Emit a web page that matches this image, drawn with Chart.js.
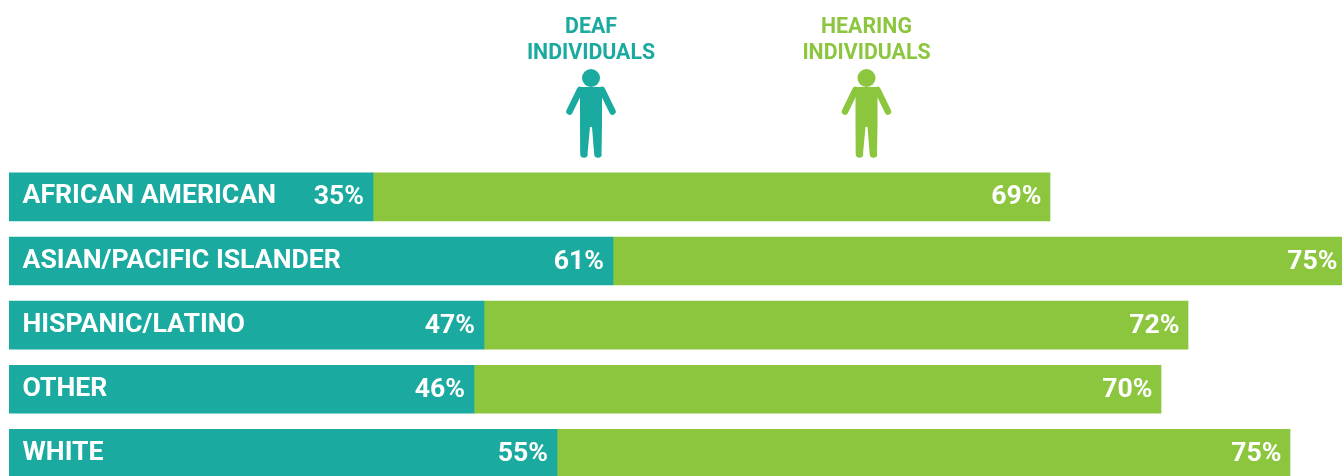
<!DOCTYPE html>
<html>
<head>
<meta charset="utf-8">
<script src="https://cdn.jsdelivr.net/npm/chart.js@4"></script>
<style>
html,body{margin:0;padding:0;background:#fff;overflow:hidden;height:476px}
#wrap{position:absolute;left:0;top:0;width:1342px;height:515px}
canvas{display:block}
</style>
</head>
<body>
<div id="wrap"><canvas id="c" width="1342" height="515"></canvas></div>
<script>
const categories = ["AFRICAN AMERICAN","ASIAN/PACIFIC ISLANDER","HISPANIC/LATINO","OTHER","WHITE"];
// Printed percentages, as labelled in the picture
const deafLabels = [35,61,47,46,55];
const hearingLabels = [69,75,72,70,75];
// Segment lengths (the drawn bars are not strictly proportional to the labels)
const deafLengths = [36.4,60.4,47.5,46.5,54.8];
const hearingLengths = [67.7,73.3,70.4,68.7,73.3];
const TEAL = "#1AAAA0";
const GREEN = "#8CC63F";
const FONT = "Roboto";

const overlay = {
  id: "overlay",
  afterDatasetsDraw(chart) {
    const ctx = chart.ctx;
    ctx.save();
    ctx.fillStyle = "#fff";
    ctx.font = "700 26.67px " + FONT;
    ctx.textAlign = "right";
    ctx.textBaseline = "middle";
    [[0, deafLabels, 9], [1, hearingLabels, 8.5]].forEach(([idx, labels, inset]) => {
      chart.getDatasetMeta(idx).data.forEach((bar, i) => {
        ctx.fillText(labels[i] + "%", bar.x - inset, bar.y + 1);
      });
    });
    ctx.restore();
  },
  afterDraw(chart) {
    const ctx = chart.ctx;
    const header = (cx, lines, color) => {
      ctx.save();
      ctx.fillStyle = color;
      ctx.font = "700 21.33px " + FONT;
      ctx.textAlign = "center";
      ctx.textBaseline = "alphabetic";
      ctx.fillText(lines[0], cx, 33);
      ctx.fillText(lines[1], cx, 59);
      ctx.translate(cx, 0);
      ctx.beginPath();
      ctx.arc(0, 78, 9, 0, Math.PI * 2);
      ctx.fill();
      // torso and legs
      ctx.beginPath();
      ctx.moveTo(-11, 87);
      ctx.lineTo(11, 87);
      ctx.lineTo(11, 125);
      ctx.lineTo(10.5, 154);
      ctx.arc(7, 154, 3.8, 0, Math.PI);
      ctx.lineTo(1, 127);
      ctx.lineTo(-1, 127);
      ctx.lineTo(-3.5, 154);
      ctx.arc(-7, 154, 3.8, 0, Math.PI);
      ctx.lineTo(-11, 125);
      ctx.closePath();
      ctx.fill();
      // arms
      ctx.strokeStyle = color;
      ctx.lineWidth = 6.5;
      ctx.lineCap = "round";
      [-1, 1].forEach(s => {
        ctx.beginPath();
        ctx.moveTo(s * 11, 90);
        ctx.lineTo(s * 21.5, 111.5);
        ctx.stroke();
      });
      ctx.fillRect(-12, 87, 24, 10);
      ctx.restore();
    };
    header(591, ["DEAF", "INDIVIDUALS"], TEAL);
    header(866.5, ["HEARING", "INDIVIDUALS"], GREEN);
  }
};

new Chart(document.getElementById("c"), {
  type: "bar",
  data: {
    labels: categories,
    datasets: [
      { label: "Deaf individuals", data: deafLengths, backgroundColor: TEAL, borderWidth: 0, barThickness: 48 },
      { label: "Hearing individuals", data: hearingLengths, backgroundColor: GREEN, borderWidth: 0, barThickness: 48 }
    ]
  },
  options: {
    indexAxis: "y",
    responsive: false,
    animation: false,
    layout: { padding: { left: 9, right: 0, top: 164.75, bottom: 12.75 } },
    plugins: { legend: { display: false }, tooltip: { enabled: false } },
    scales: {
      x: { stacked: true, display: false, min: 0, max: 133.3 },
      y: {
        stacked: true,
        afterFit(scale) { scale.width = 0; },
        border: { display: false },
        grid: { display: false, drawTicks: false },
        ticks: {
          mirror: true,
          z: 1,
          padding: 13.5,
          color: "#fff",
          font: { family: FONT, weight: "700", size: 26.67 }
        }
      }
    }
  },
  plugins: [overlay]
});
</script>
</body>
</html>
